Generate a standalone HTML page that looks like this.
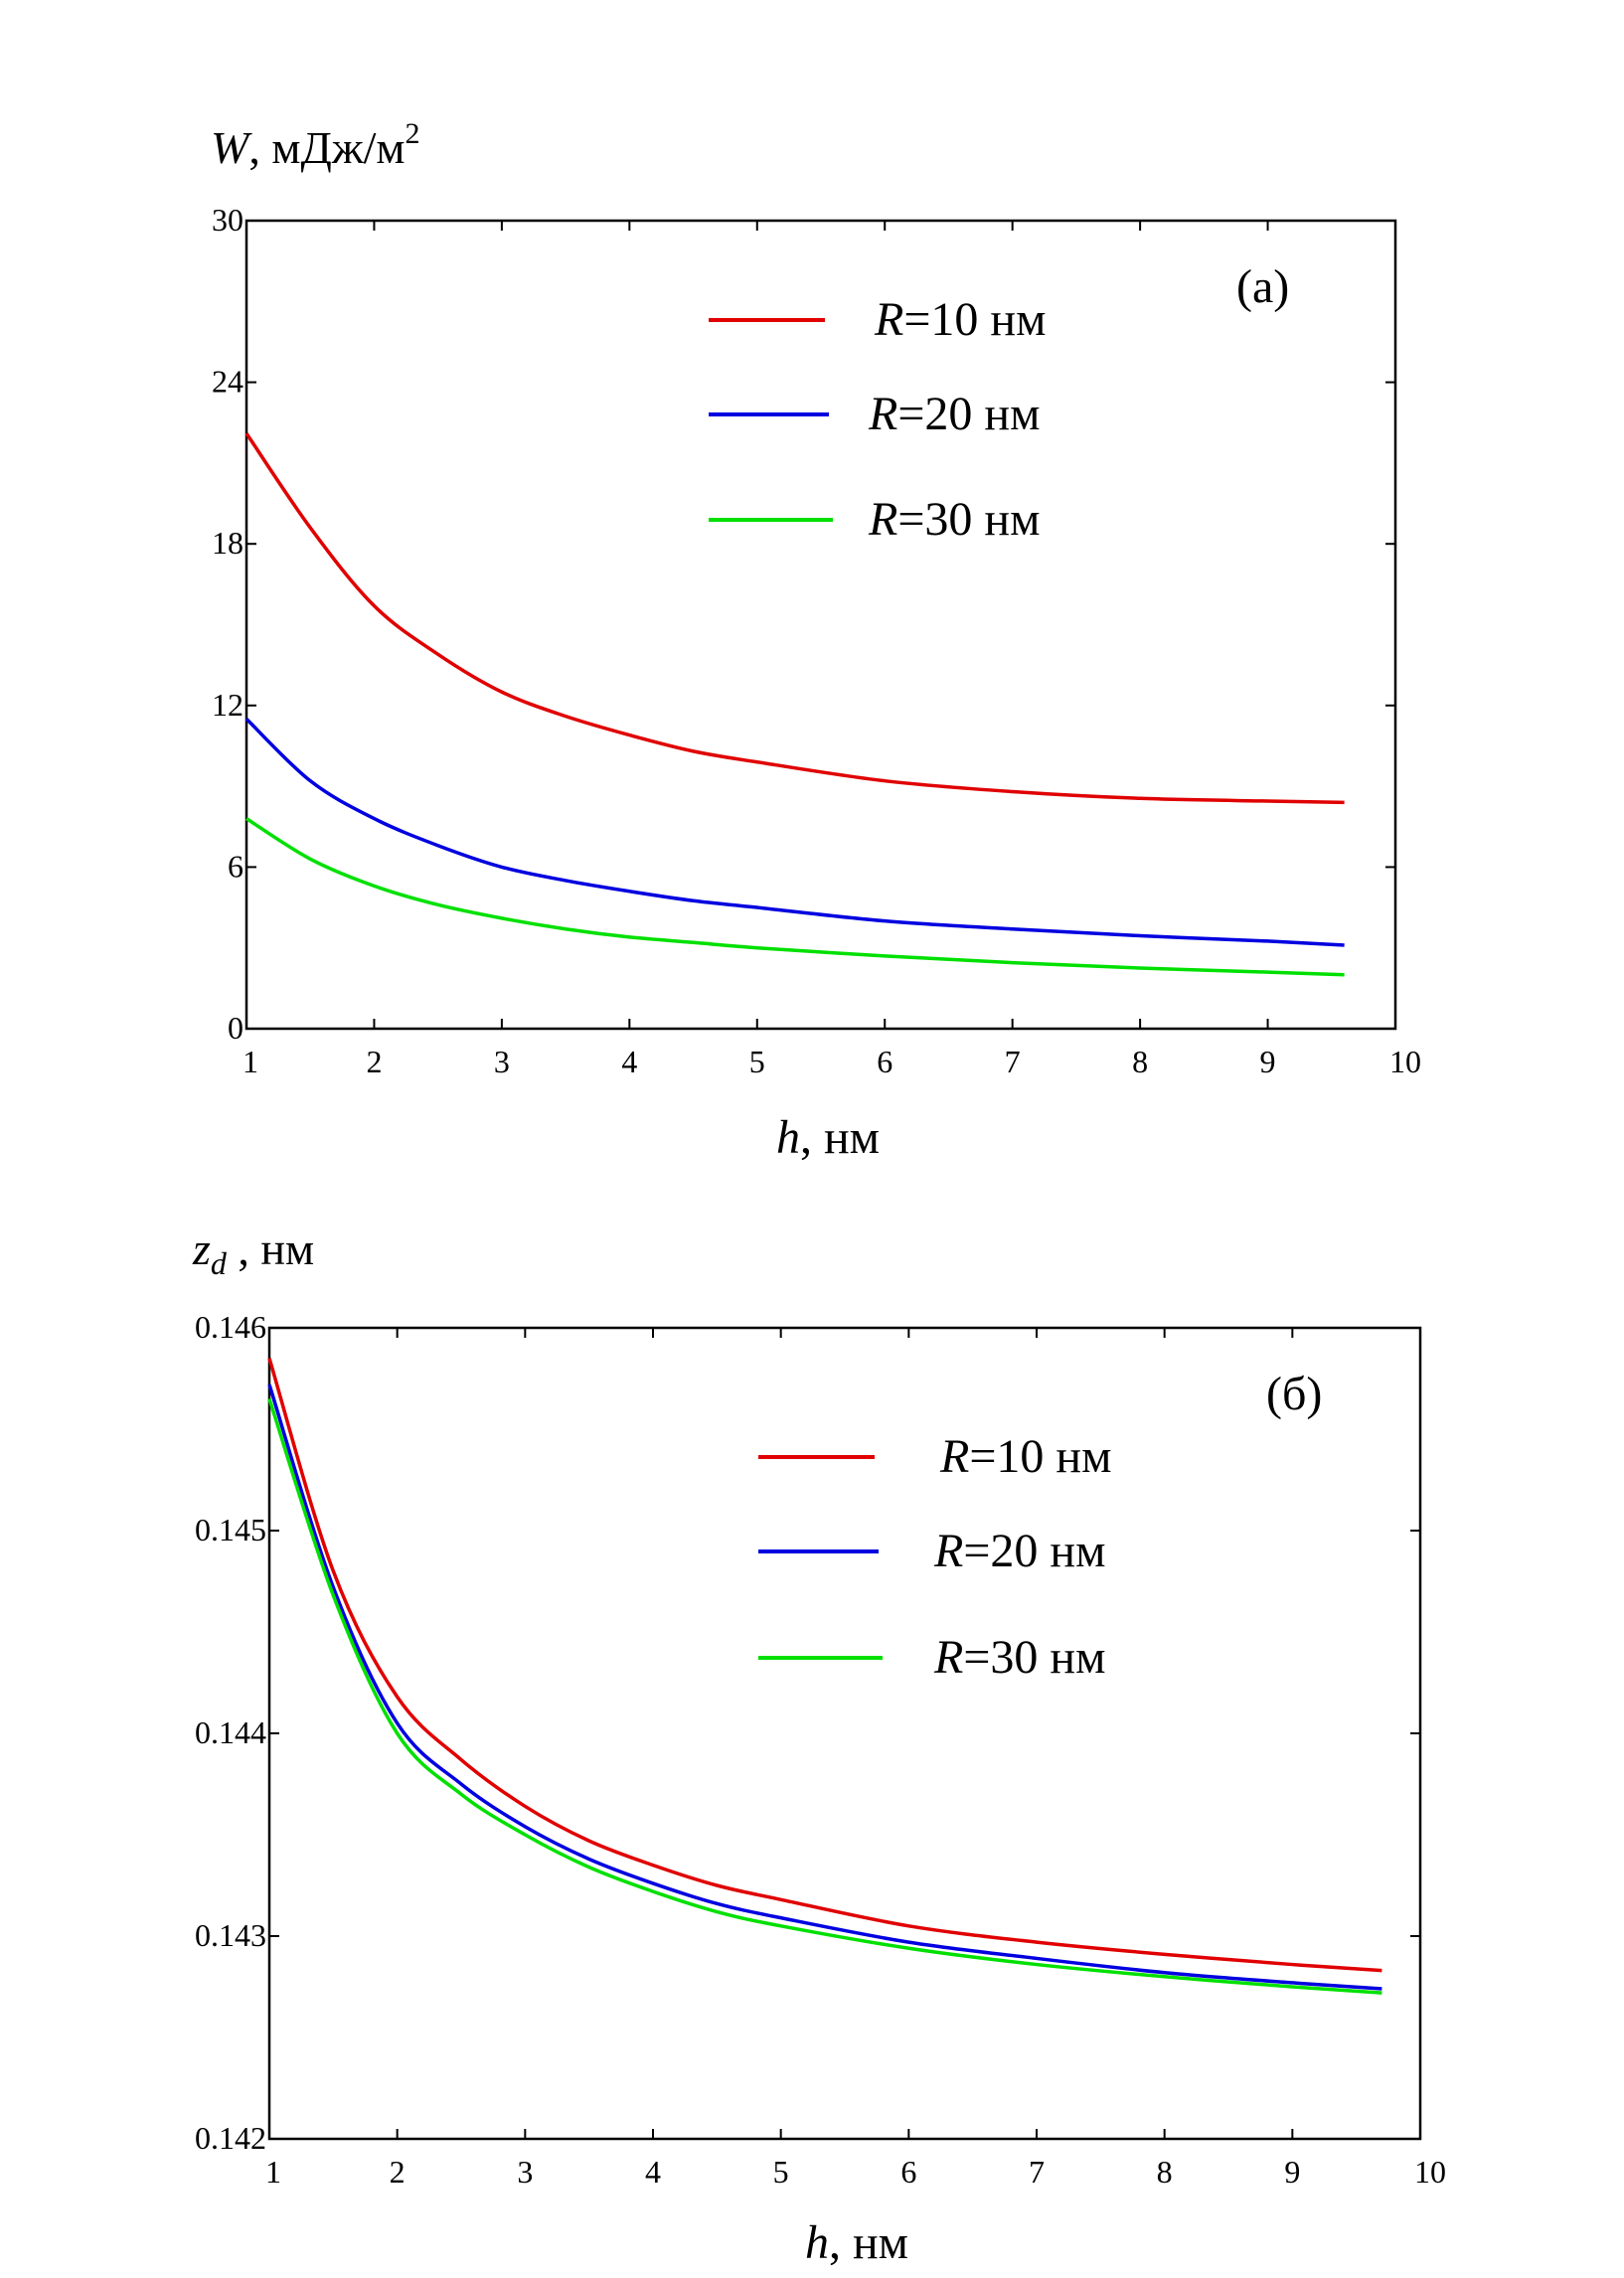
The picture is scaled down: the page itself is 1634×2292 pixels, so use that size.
<!DOCTYPE html>
<html><head><meta charset="utf-8"><style>
html,body{margin:0;padding:0;background:#fff;}
svg{display:block;font-family:"Liberation Serif",serif;}
</style></head><body>
<svg id="fig" width="1634" height="2292" viewBox="0 0 1634 2292" xmlns="http://www.w3.org/2000/svg">
<g id="c1"></g>
<g id="c2"></g>
</svg>
<script>
const hA = [1,1.5,2,2.5,3,3.5,4,4.5,5,6,7,8,9,9.6];
const wR10 = [22.1,18.6,15.7,13.9,12.5,11.6,10.9,10.3,9.9,9.2,8.8,8.55,8.45,8.4];
const wR20 = [11.5,9.2,7.8,6.8,6.0,5.5,5.1,4.75,4.5,4.0,3.7,3.45,3.25,3.1];
const wR30 = [7.8,6.3,5.3,4.6,4.1,3.7,3.4,3.2,3.0,2.7,2.45,2.25,2.1,2.0];
const hB = [1,1.5,2,2.5,3,3.5,4,4.5,5,6,7,8,9,9.7];
const zR10 = [0.14585,0.1448,0.14418,0.14387,0.14364,0.14347,0.14335,0.14325,0.14318,0.14305,0.14297,0.14291,0.14286,0.14283];
const zR20 = [0.14572,0.14472,0.14405,0.14375,0.14354,0.14338,0.14326,0.14316,0.14309,0.14297,0.14289,0.14282,0.14277,0.14274];
const zR30 = [0.14565,0.14468,0.14400,0.14370,0.14350,0.14334,0.14322,0.14312,0.14305,0.14294,0.14286,0.14280,0.14275,0.14272];
const xTicks = [1,2,3,4,5,6,7,8,9,10];
const yTicksA = [0,6,12,18,24,30];
const yTicksB = [0.142,0.143,0.144,0.145,0.146];
const yLabelsB = ["0.142","0.143","0.144","0.145","0.146"];
const legendNames = ["10","20","30"];
const colors = ["#e00000","#0000e0","#00e000"];

const NS="http://www.w3.org/2000/svg";
function mk(p,tag,at,txt){const e=document.createElementNS(NS,tag);for(const k in at)e.setAttribute(k,at[k]);if(txt!==undefined)e.textContent=txt;p.appendChild(e);return e;}
function smooth(pts){let d=`M${pts[0][0]},${pts[0][1]}`;for(let i=0;i<pts.length-1;i++){const p0=pts[Math.max(i-1,0)],p1=pts[i],p2=pts[i+1],p3=pts[Math.min(i+2,pts.length-1)];
const c1=[p1[0]+(p2[0]-p0[0])/6,p1[1]+(p2[1]-p0[1])/6],c2=[p2[0]-(p3[0]-p1[0])/6,p2[1]-(p3[1]-p1[1])/6];d+=` C${c1[0]},${c1[1]} ${c2[0]},${c2[1]} ${p2[0]},${p2[1]}`;}return d;}

function chart(g,o){
  const X=v=>o.L+(v-1)/9*(o.R-o.L);
  const Y=v=>o.B-(v-o.y0)/(o.y1-o.y0)*(o.B-o.T);
  let e=mk(g,'rect',{x:o.L,y:o.T,width:o.R-o.L,height:o.B-o.T,fill:'none',stroke:'#000','stroke-width':2.5});
  
  xTicks.forEach(t=>{const x=X(t);
    mk(g,'line',{x1:x,x2:x,y1:o.B,y2:o.B-10,stroke:'#000','stroke-width':2});
    mk(g,'line',{x1:x,x2:x,y1:o.T,y2:o.T+10,stroke:'#000','stroke-width':2});
    e=mk(g,'text',{x:x+(t==1?4:t==10?10:0),y:o.B+44,'font-size':32,'text-anchor':'middle'},String(t));
    });
  o.yt.forEach((t,i)=>{const y=Y(t);
    mk(g,'line',{x1:o.L,x2:o.L+10,y1:y,y2:y,stroke:'#000','stroke-width':2});
    mk(g,'line',{x1:o.R,x2:o.R-10,y1:y,y2:y,stroke:'#000','stroke-width':2});
    e=mk(g,'text',{x:o.L-3,y:y+10,'font-size':32,'text-anchor':'end'},o.yl[i]);
    });
  o.series.forEach((s,i)=>{
    const pts=o.xs.map((h,j)=>[X(h),Y(s[j])]);
    e=mk(g,'path',{d:smooth(pts),fill:'none',stroke:colors[i],'stroke-width':3.5});
    
    const ly=o.leg[i];
    e=mk(g,'line',{x1:o.lx1,x2:o.lx2+i*4,y1:ly,y2:ly,stroke:colors[i],'stroke-width':4});
    
    e=mk(g,'text',{x:o.lt-(i?6:0),y:ly+15,'font-size':48});
    
    mk(e,'tspan',{'font-style':'italic'},'R');mk(e,'tspan',{},'='+legendNames[i]+' нм');
  });
  e=mk(g,'text',{x:o.tag[0],y:o.tag[1],'font-size':48},o.tagT);
  
  e=mk(g,'text',{x:o.xl[0],y:o.xl[1],'font-size':48,'text-anchor':'middle'});
  
  mk(e,'tspan',{'font-style':'italic'},'h');mk(e,'tspan',{},', нм');
}
chart(document.getElementById('c1'),{L:248,R:1404,T:222,B:1035,y0:0,y1:30,yt:yTicksA,yl:yTicksA.map(String),
  xs:hA,series:[wR10,wR20,wR30],leg:[322,417,523],lx1:713,lx2:830,lt:880,tag:[1244,304],tagT:'(a)',xl:[833,1160]});
chart(document.getElementById('c2'),{L:271,R:1429,T:1336,B:2152,y0:0.142,y1:0.146,yt:yTicksB,yl:yLabelsB,
  xs:hB,series:[zR10,zR20,zR30],leg:[1466,1561,1668],lx1:763,lx2:880,lt:946,tag:[1274,1418],tagT:'(б)',xl:[862,2272]});
const svg=document.getElementById('fig');
let t=mk(svg,'text',{x:212,y:164,'font-size':46});


mk(t,'tspan',{'font-style':'italic'},'W');mk(t,'tspan',{},', мДж/м');mk(t,'tspan',{'font-size':30,dy:-20},'2');
t=mk(svg,'text',{x:194,y:1272,'font-size':46});


mk(t,'tspan',{'font-style':'italic'},'z');mk(t,'tspan',{'font-style':'italic','font-size':32,dy:10},'d');mk(t,'tspan',{dy:-10},' , нм');
</script>
</body></html>
